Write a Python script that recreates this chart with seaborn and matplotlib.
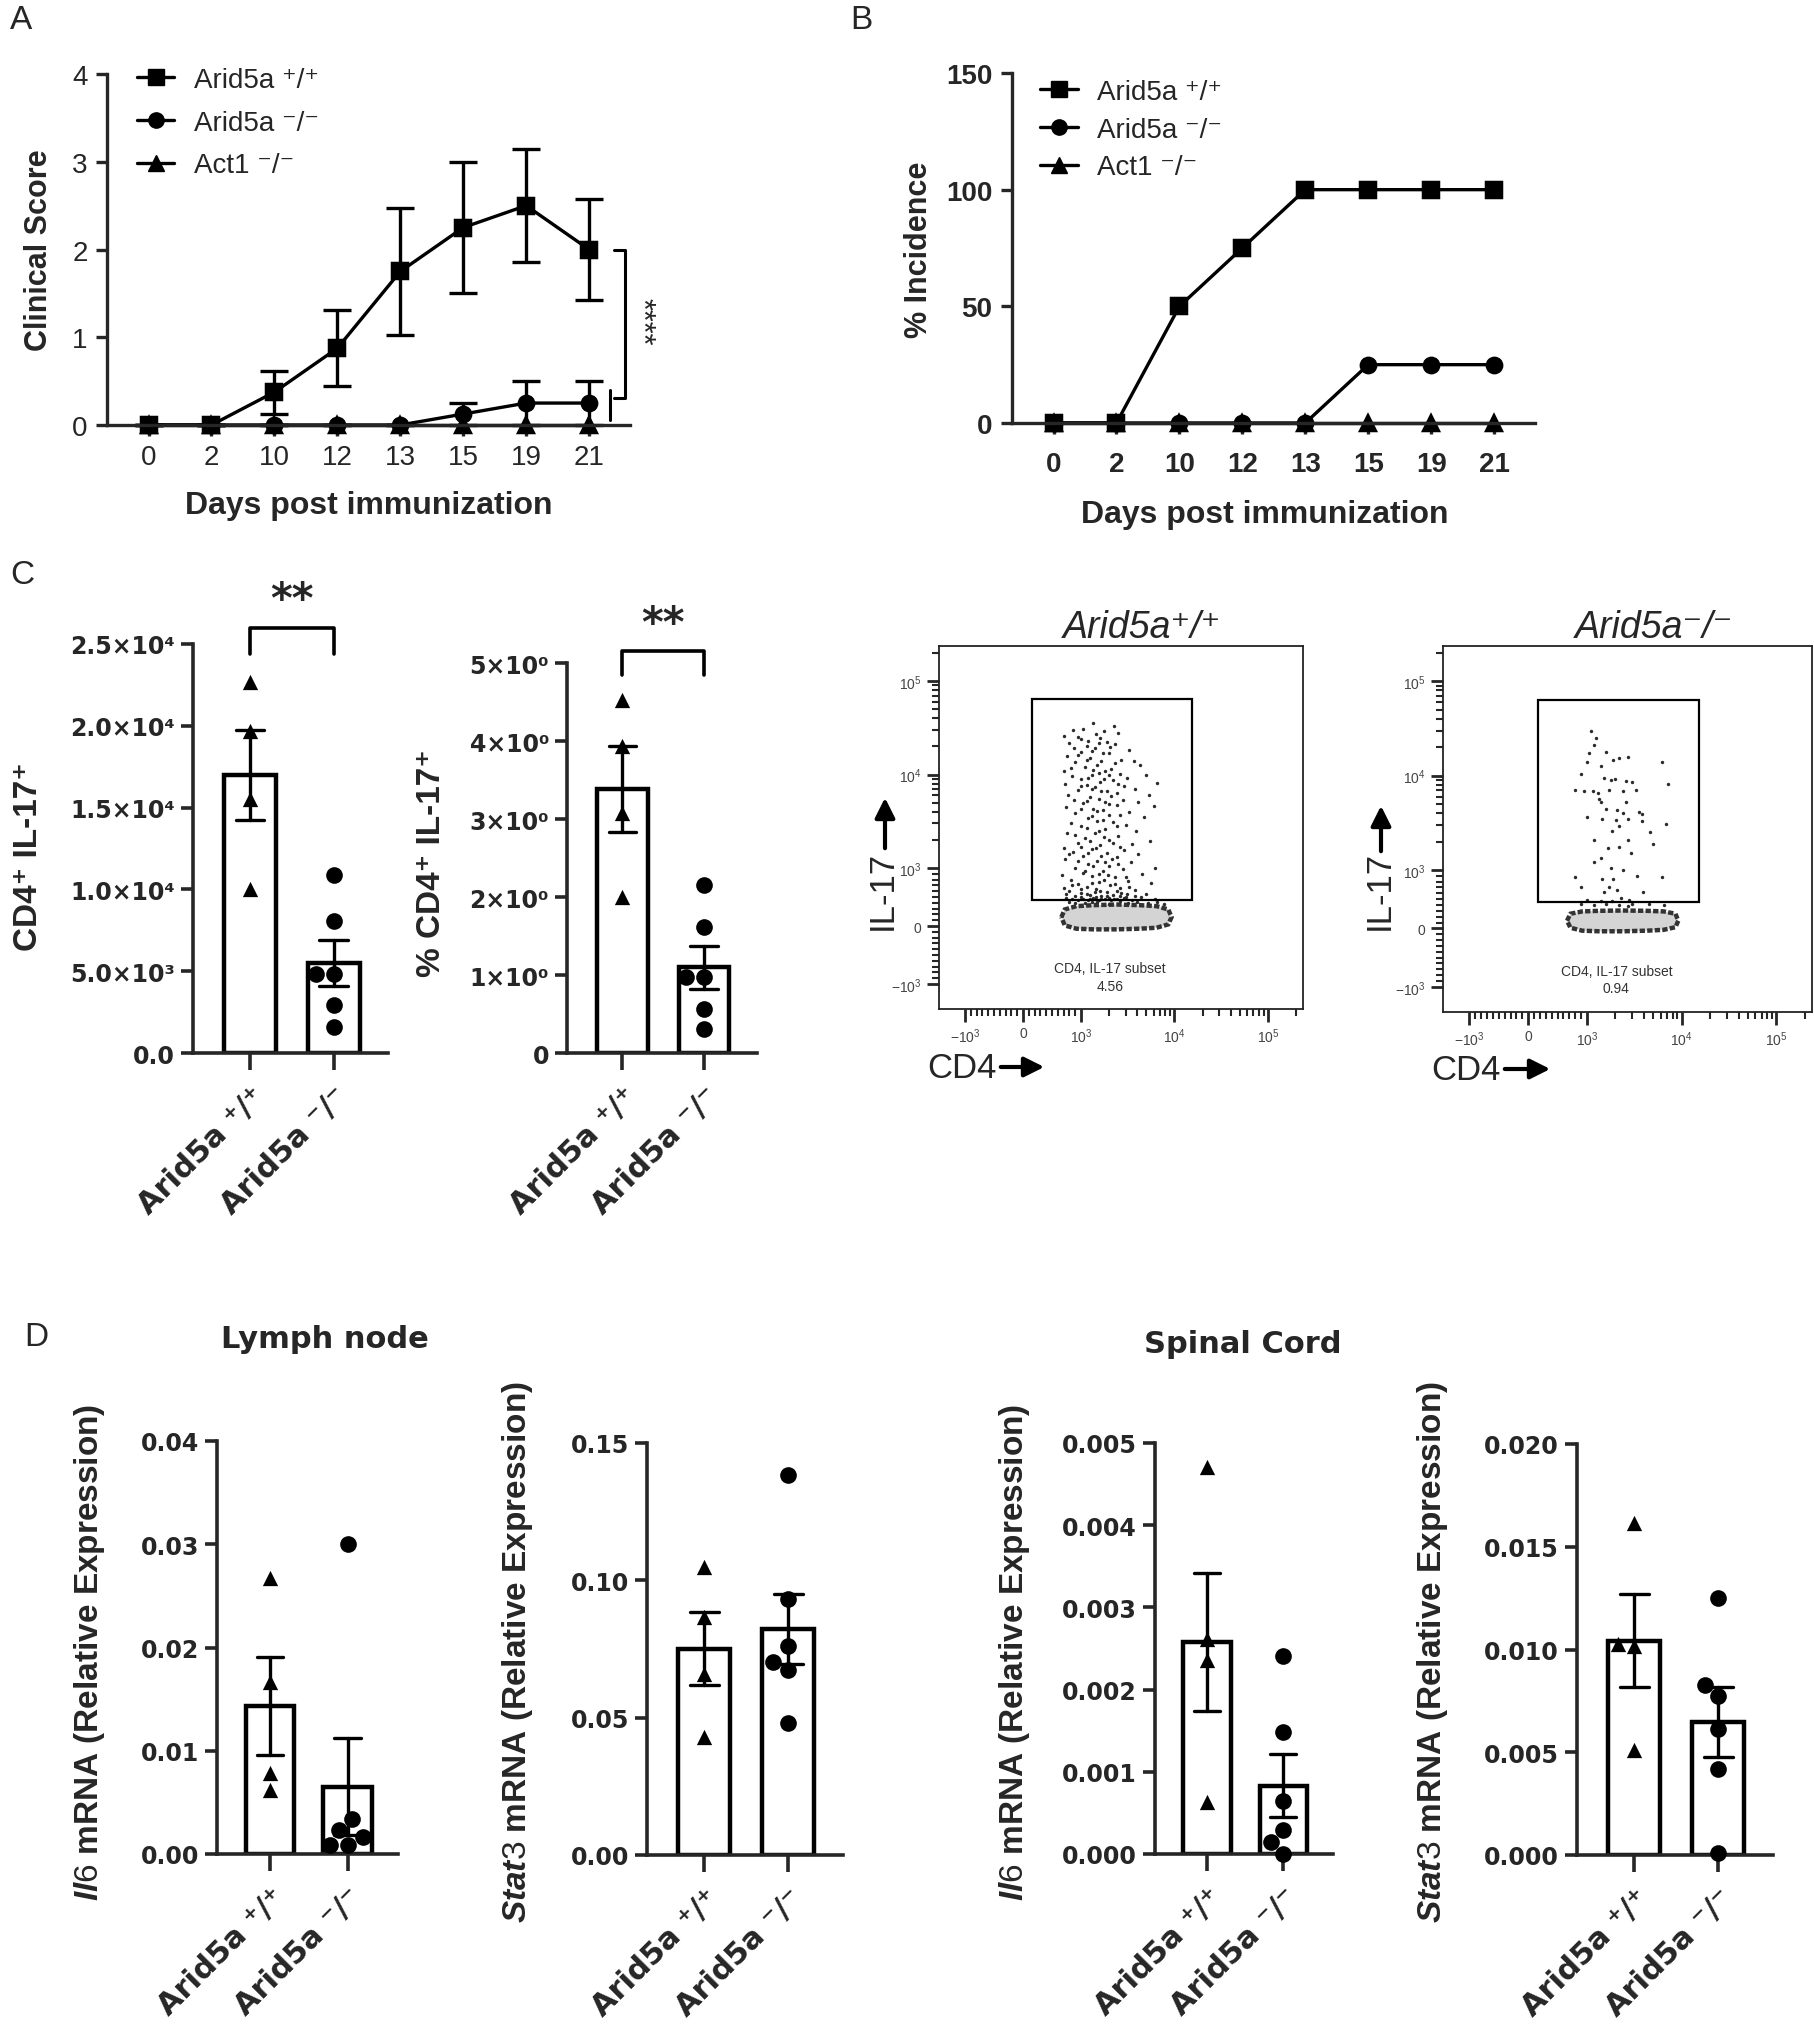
import numpy as np
import pandas as pd
import seaborn as sns
import matplotlib.pyplot as plt
from matplotlib.lines import Line2D
from matplotlib.patches import Rectangle, FancyArrowPatch

sns.set_style('ticks')
plt.rcParams['font.family'] = ['Liberation Sans', 'DejaVu Sans']
plt.rcParams['mathtext.fontset'] = 'custom'
plt.rcParams['mathtext.rm'] = 'Liberation Sans'
plt.rcParams['mathtext.it'] = 'Liberation Sans:italic:bold'
plt.rcParams['mathtext.bf'] = 'Liberation Sans:bold'

# ---- panel A / B : EAE time course ----
days = ['0', '2', '10', '12', '13', '15', '19', '21']
genotypes = ['Arid5a ⁺/⁺', 'Arid5a ⁻/⁻', 'Act1 ⁻/⁻']
score_wt = [0, 0, 0.375, 0.875, 1.75, 2.25, 2.5, 2.0]
score_wt_sem = [0, 0, 0.245, 0.43, 0.72, 0.75, 0.64, 0.58]
score_ko = [0, 0, 0, 0, 0, 0.125, 0.25, 0.25]
score_ko_sem = [0, 0, 0, 0, 0, 0.125, 0.25, 0.25]
score_act1 = [0, 0, 0, 0, 0, 0, 0, 0]
inc_wt = [0, 0, 50, 75, 100, 100, 100, 100]
inc_ko = [0, 0, 0, 0, 0, 25, 25, 25]
inc_act1 = [0, 0, 0, 0, 0, 0, 0, 0]
score_ticks = [0, 1, 2, 3, 4]
score_ticklabels = ['0', '1', '2', '3', '4']
inc_ticks = [0, 50, 100, 150]
inc_ticklabels = ['0', '50', '100', '150']

# ---- panel C / D : per-mouse values ----
groups = ['Arid5a ⁺/⁺', 'Arid5a ⁻/⁻']
th17_count_wt = [22700, 19700, 15500, 10000]
th17_count_ko = [10850, 8070, 4810, 4810, 2910, 1590]
th17_pct_wt = [4.53, 3.94, 3.08, 2.0]
th17_pct_ko = [2.16, 1.62, 0.97, 0.97, 0.56, 0.31]
il6_ln_wt = [0.0267, 0.0167, 0.0062, 0.0078]
il6_ln_ko = [0.0300, 0.0034, 0.0023, 0.0009, 0.0009, 0.0016]
stat3_ln_wt = [0.1048, 0.0867, 0.0660, 0.0430]
stat3_ln_ko = [0.1383, 0.0933, 0.0762, 0.0702, 0.0675, 0.0479]
il6_sc_wt = [0.00471, 0.00261, 0.00236, 0.00063]
il6_sc_ko = [0.00241, 0.00149, 0.00064, 0.00029, 0.00014, 0.0]
stat3_sc_wt = [0.01616, 0.01026, 0.01015, 0.00513]
stat3_sc_ko = [0.01251, 0.00825, 0.00775, 0.00615, 0.0042, 0.0001]

count_ticks = [0, 5000, 10000, 15000, 20000, 25000]
count_ticklabels = ['0.0', '5.0×10³', '1.0×10⁴', '1.5×10⁴', '2.0×10⁴', '2.5×10⁴']
pct_ticks = [0, 1, 2, 3, 4, 5]
pct_ticklabels = ['0', '1×10⁰', '2×10⁰', '3×10⁰', '4×10⁰', '5×10⁰']
il6_ln_ticks = [0, 0.01, 0.02, 0.03, 0.04]
il6_ln_ticklabels = ['0.00', '0.01', '0.02', '0.03', '0.04']
stat3_ln_ticks = [0, 0.05, 0.10, 0.15]
stat3_ln_ticklabels = ['0.00', '0.05', '0.10', '0.15']
il6_sc_ticks = [0, 0.001, 0.002, 0.003, 0.004, 0.005]
il6_sc_ticklabels = ['0.000', '0.001', '0.002', '0.003', '0.004', '0.005']
stat3_sc_ticks = [0, 0.005, 0.010, 0.015, 0.020]
stat3_sc_ticklabels = ['0.000', '0.005', '0.010', '0.015', '0.020']

# ---- flow cytometry (CD4 vs IL-17) ----
flow_major = [-1000, 0, 1000, 10000, 100000]
flow_major_labels = ['$-10^{3}$', '0', '$10^{3}$', '$10^{4}$', '$10^{5}$']
flow_minor = [-900, -800, -700, -600, -500, -400, -300, -200, -100,
              100, 200, 300, 400, 500, 600, 700, 800, 900,
              2000, 3000, 4000, 5000, 6000, 7000, 8000, 9000,
              20000, 30000, 40000, 50000, 60000, 70000, 80000, 90000, 200000]
gate_cd4 = [160, 15300]
gate_il17 = [450, 63700]
wt_subset = '4.56'
ko_subset = '0.94'
wt_cells = [
    (1350, 36000), (2250, 33000), (870, 30000), (1050, 30500), (2500, 27500), (700, 26000),
    (950, 25500), (1600, 24800), (1900, 22500), (2300, 21000), (800, 21500), (1150, 20000),
    (1400, 19200), (3300, 18500), (1000, 17500), (1700, 16800), (2000, 17200), (760, 15800),
    (1250, 15000), (2700, 14200), (3700, 13800), (900, 13500), (1500, 12800), (4300, 12500),
    (1100, 12000), (2100, 11500), (700, 11000), (1800, 10800), (2600, 10200), (1300, 10000),
    (850, 9600), (3100, 9300), (5000, 9800), (1000, 9000), (2200, 8700), (1600, 8400),
    (6500, 8200), (730, 8000), (1150, 7800), (2900, 7600), (1400, 7300), (3800, 7000),
    (950, 6800), (1900, 6600), (2400, 6300), (5300, 6100), (780, 6000), (1250, 5800),
    (1550, 5500), (2800, 5300), (4100, 5100), (1050, 5000), (2000, 4800), (6000, 4600),
    (740, 4500), (1350, 4300), (1700, 4200), (3300, 4000), (900, 3900), (2600, 3700),
    (4700, 3500), (1200, 3400), (1500, 3200), (2200, 3100), (820, 3000), (3000, 2900),
    (1000, 2800), (1800, 2600), (3900, 2500), (760, 2400), (1400, 2350), (2500, 2200),
    (1100, 2100), (2000, 2000), (5500, 1950), (950, 1850), (3500, 1800), (1600, 1750),
    (700, 1650), (1300, 1600), (2900, 1550), (870, 1500), (1900, 1450), (4100, 1400),
    (1050, 1350), (2400, 1300), (720, 1250), (1500, 1200), (3400, 1150), (1200, 1100),
    (2000, 1050), (900, 1000), (6200, 1000), (2800, 980), (1700, 950), (1050, 920),
    (4500, 900), (680, 880), (1300, 860), (2300, 840), (820, 800), (3200, 780),
    (1550, 760), (5600, 740), (950, 720), (2050, 700), (1150, 680), (2600, 660),
    (700, 650), (1450, 640), (3800, 620), (800, 600), (1900, 590), (1000, 570),
    (5000, 560), (3100, 550), (1250, 540), (2200, 530), (900, 520), (1650, 510),
    (4400, 500), (750, 490), (1350, 485), (2900, 480), (1050, 475), (1800, 470),
    (6200, 470), (850, 465), (2400, 460), (1550, 455), (3500, 455), (1200, 450),
    (2100, 450), (950, 448), (800, 420), (1500, 410), (2600, 430), (4000, 420),
    (1100, 400), (3200, 395), (6500, 410), (900, 390), (2000, 385), (1300, 420),
    (5200, 400), (7800, 380),
    (1000, 24000), (1200, 23000), (1450, 27000), (1750, 29500), (880, 19000), (1300, 17800),
    (1550, 21500), (2050, 19500), (950, 16000), (1150, 14200), (1650, 13800), (2300, 13200),
    (820, 11800), (1350, 11200), (1550, 10500), (2000, 9800), (1200, 9300), (1750, 8900),
    (2500, 7900), (1000, 7600), (1300, 7000), (1650, 6700), (2100, 5900), (880, 5300),
    (1150, 5200), (1800, 5100), (2400, 4700), (1000, 4300), (1500, 4050), (2000, 3700),
    (1300, 3600), (1700, 3300), (2400, 2800), (1150, 2700), (1550, 2500), (900, 2250),
    (1250, 1950), (1750, 2150), (2200, 1850), (1000, 1700), (1450, 1650), (2600, 1700),
    (800, 1400), (1200, 1450), (1650, 1350), (2150, 1250), (950, 1200), (1350, 1050),
    (1800, 1150), (2500, 1100), (1100, 950), (1550, 900), (1950, 880), (3000, 850),
    (850, 700), (1300, 740), (1750, 800), (2300, 720), (1000, 640), (1600, 600),
    (2400, 610), (3300, 680), (1150, 560), (1400, 580), (2700, 570), (750, 550),
    (1900, 520), (1450, 500), (2600, 510), (1000, 500), (3800, 520), (1250, 470),
    (2000, 490), (3000, 500), (1650, 465), (2250, 470), (1400, 460),
]
ko_cells = [
    (1100, 30000), (1250, 25000), (1200, 21000), (1050, 17500), (1600, 18000), (2200, 15500),
    (2700, 15800), (1000, 14000), (1900, 14500), (6200, 14000), (1400, 12500), (900, 10500),
    (1500, 9500), (1800, 9000), (2000, 9300), (2600, 8800), (3000, 8500), (7200, 8200),
    (800, 7000), (950, 6900), (1150, 6900), (1300, 6600), (1700, 7000), (2400, 6800),
    (3300, 7100), (1350, 5700), (1400, 5200), (2600, 5300), (1600, 4400), (2100, 4300),
    (2400, 4000), (3500, 4100), (3800, 3900), (1000, 3600), (1450, 3500), (2050, 3400),
    (2700, 3500), (3800, 3300), (6800, 3100), (2200, 2900), (4600, 2500), (1850, 2600),
    (2700, 2100), (1200, 2100), (5000, 1900), (1650, 1700), (2200, 1750), (1400, 1350),
    (2900, 1500), (1200, 1200), (1800, 1050), (2400, 1000), (3400, 900), (6200, 880),
    (800, 880), (1450, 850), (1900, 850), (900, 700), (1700, 700), (2100, 660),
    (3900, 620), (1500, 620), (2300, 520), (2800, 480), (1000, 480), (1400, 470),
    (1850, 460), (900, 420), (1600, 410), (2200, 400), (3000, 420), (4500, 410),
    (1200, 395), (6500, 400), (2700, 390),
]
wt_blob_cd4 = [661, 720, 921, 1349, 2399, 4266, 6442, 8590, 9310, 8590, 6442, 4266, 2399, 1349, 921, 720]
wt_blob_il17 = [154, 286, 343, 360, 371, 360, 343, 286, 154, 29, -29, -46, -57, -57, -46, 11]
ko_blob_cd4 = [661, 720, 921, 1349, 2399, 4266, 6442, 8590, 9200, 8590, 6442, 4266, 2399, 1349, 921, 720]
ko_blob_il17 = [130, 250, 290, 300, 305, 300, 290, 250, 130, 20, -25, -40, -50, -50, -40, 10]

W, H = 1815, 2040
fig = plt.figure(figsize=(W / 100, H / 100), dpi=100)


def rect(l, r, t, b):
    return [l / W, 1 - b / H, (r - l) / W, (b - t) / H]


def put(x, y, s, **kw):
    fig.text(x / W, 1 - y / H, s, **kw)


def arrow(x0, y0, x1, y1):
    fig.add_artist(FancyArrowPatch((x0 / W, 1 - y0 / H), (x1 / W, 1 - y1 / H),
                                   transform=fig.transFigure, arrowstyle='-|>',
                                   mutation_scale=30, lw=3, color='black'))


def time_panel(box, wt, ko, act1, ticks, ticklabels, bold, ylabel, ylab_xy, xlab_xy,
               leg_xy, spacing, xpad, sems=None):
    l, r, t, b = box
    ax = fig.add_axes(rect(*box))
    df = pd.DataFrame({'day': days * 3,
                       'genotype': [g for g in genotypes for _ in days],
                       'value': wt + ko + act1})
    sns.pointplot(data=df, x='day', y='value', hue='genotype', order=days,
                  hue_order=genotypes[::-1], palette={g: 'black' for g in genotypes},
                  markers=['^', 'o', 's'], linestyles='-', errorbar=None,
                  markersize=11, linewidth=2.4, legend=False, ax=ax)
    if sems is not None:
        for vals, err in zip([wt, ko], sems):
            ax.errorbar(np.arange(len(days)), vals, yerr=err, fmt='none', ecolor='black',
                        elinewidth=2.4, capsize=10, capthick=2.4)
    for art in ax.lines + ax.collections:
        art.set_clip_on(False)
    ax.set_xlim(-0.66, 7.65)
    ax.set_ylim(ticks[0], ticks[-1])
    weight = 'bold' if bold else 'normal'
    ax.set_yticks(ticks, ticklabels, fontweight=weight, fontsize=20)
    ax.set_xticks(np.arange(len(days)), days, fontweight=weight, fontsize=20)
    sns.despine(ax=ax)
    for s in ['left', 'bottom']:
        ax.spines[s].set_linewidth(2.4)
    ax.tick_params(width=2.4, length=8, pad=6)
    ax.tick_params(axis='x', pad=xpad)
    ax.set_xlabel('Days post immunization', fontsize=23, fontweight='bold', va='center')
    ax.xaxis.set_label_coords((xlab_xy[0] - l) / (r - l), (b - xlab_xy[1]) / (b - t))
    ax.set_ylabel(ylabel, fontsize=22, fontweight='bold', va='center')
    ax.yaxis.set_label_coords((ylab_xy[0] - l) / (r - l), (b - ylab_xy[1]) / (b - t))
    handles = [Line2D([0], [0], color='black', lw=2.4, marker=m, markersize=11)
               for m in ['s', 'o', '^']]
    ax.legend(handles, genotypes, loc='upper left',
              bbox_to_anchor=(leg_xy[0] / W, 1 - leg_xy[1] / H), bbox_transform=fig.transFigure,
              frameon=False, fontsize=20, handlelength=1.35, handletextpad=0.7,
              labelspacing=spacing, borderpad=0, borderaxespad=0)
    return ax


def bar_panel(box, wt, ko, ticks, ticklabels, ylabel, ylab_xy, sig=None):
    l, r, t, b = box
    ax = fig.add_axes(rect(*box))
    df = pd.DataFrame({'group': [groups[0]] * len(wt) + [groups[1]] * len(ko),
                       'value': wt + ko})
    sns.barplot(data=df, x='group', y='value', order=groups, errorbar='se', color='white',
                edgecolor='black', linewidth=3.2, width=0.62, capsize=0.34,
                err_kws={'color': 'black', 'linewidth': 2.4}, ax=ax)
    for grp, mk, sz in zip(groups, ['^', 'o'], [11, 12]):
        sns.swarmplot(data=df[df['group'] == grp], x='group', y='value', order=groups,
                      marker=mk, size=sz, color='black', linewidth=0, ax=ax)
    for art in ax.collections:
        art.set_clip_on(False)
    ax.set_xlim(-0.68, 1.65)
    ax.set_ylim(ticks[0], ticks[-1])
    ax.set_yticks(ticks, ticklabels, fontfamily='DejaVu Sans', fontweight='bold', fontsize=17)
    ax.set_xticks([0, 1], groups, rotation=45, ha='right', rotation_mode='anchor',
                  fontfamily='DejaVu Sans', fontweight='bold', fontsize=22)
    ax.set_xlabel('')
    sns.despine(ax=ax)
    for s in ['left', 'bottom']:
        ax.spines[s].set_linewidth(2.6)
    ax.tick_params(axis='y', length=9, width=2.6, pad=4)
    ax.tick_params(axis='x', length=12, width=2.6, pad=8)
    ax.set_ylabel(ylabel, fontsize=24, fontweight='bold', va='center')
    ax.yaxis.set_label_coords((ylab_xy[0] - l) / (r - l), (b - ylab_xy[1]) / (b - t))
    if sig is not None:
        lo, hi, star_y = sig
        ax.plot([0, 0, 1, 1], [lo, hi, hi, lo], color='black', lw=2.6, clip_on=False)
        ax.text(0.5, star_y, '**', ha='center', va='center', fontsize=30,
                fontweight='bold', fontfamily='DejaVu Sans')
    return ax


def flow_panel(box, cells, blob_x, blob_y, subset_val):
    ax = fig.add_axes(rect(*box))
    cx = [c[0] for c in cells]
    cy = [c[1] for c in cells]
    ax.fill(blob_x, blob_y, facecolor='#d4d4d4', edgecolor='#333333', lw=3.2,
            linestyle=(0, (1.2, 0.5)))
    sns.scatterplot(x=cx, y=cy, s=6, color='#2b2b2b', linewidth=0, ax=ax)
    ax.add_patch(Rectangle((gate_cd4[0], gate_il17[0]), gate_cd4[1] - gate_cd4[0],
                           gate_il17[1] - gate_il17[0], fill=False, lw=1.6, ec='black'))
    ax.set_xscale('symlog', linthresh=1000, linscale=0.558)
    ax.set_yscale('symlog', linthresh=1000, linscale=0.558)
    ax.set_xlim(-1900, 2.37e5)
    ax.set_ylim(-1850, 2.37e5)
    for axis in [ax.xaxis, ax.yaxis]:
        axis.set_ticks(flow_major, flow_major_labels)
        axis.set_ticks(flow_minor, minor=True)
    ax.tick_params(which='major', direction='out', length=9, width=2, labelsize=10,
                   labelcolor='#444', top=False, right=False)
    ax.tick_params(which='minor', direction='out', length=5, width=1.5,
                   top=False, right=False)
    for s in ax.spines.values():
        s.set_linewidth(1.3)
        s.set_color('#222')
    ax.text(0.47, 0.088, 'CD4, IL-17 subset\n' + subset_val, transform=ax.transAxes,
            ha='center', va='center', fontsize=10, color='#333', linespacing=1.3)
    return ax


# ---- A ----
ax_a = time_panel((107, 630, 75, 426), score_wt, score_ko, score_act1, score_ticks,
                  score_ticklabels, False, 'Clinical Score', (39, 250), (369, 506),
                  (137, 68), 0.6, 6, sems=[score_wt_sem, score_ko_sem])
ax_a.plot([7.4, 7.57, 7.57, 7.4], [2.0, 2.0, 0.31, 0.31], color='black', lw=2.2, clip_on=False)
ax_a.plot([7.33, 7.33], [0.06, 0.4], color='black', lw=2.2, clip_on=False)
ax_a.text(7.82, 1.19, '****', rotation=270, ha='center', va='center', fontsize=22)

# ---- B ----
time_panel((1012, 1535, 74, 424), inc_wt, inc_ko, inc_act1, inc_ticks, inc_ticklabels,
           True, '% Incidence', (919, 250), (1265, 515), (1040, 80), 0.42, 12)

# ---- C ----
bar_panel((193, 388, 645, 1054), th17_count_wt, th17_count_ko, count_ticks, count_ticklabels,
          'CD4⁺ IL-17⁺', (29, 857), sig=(24400, 26000, 27700))
bar_panel((567, 757, 664, 1054), th17_pct_wt, th17_pct_ko, pct_ticks, pct_ticklabels,
          '% CD4⁺ IL-17⁺', (432, 863), sig=(4.85, 5.15, 5.5))

flow_panel((939, 1303, 647, 1010), wt_cells, wt_blob_cd4, wt_blob_il17, wt_subset)
flow_panel((1443, 1812, 647, 1013), ko_cells, ko_blob_cd4, ko_blob_il17, ko_subset)
put(1142, 628, 'Arid5a⁺/⁺', fontsize=27, fontstyle='italic', ha='center', va='center')
put(1654, 628, 'Arid5a⁻/⁻', fontsize=27, fontstyle='italic', ha='center', va='center')
put(882, 890, 'IL-17', fontsize=25, rotation=90, ha='center', va='center')
put(1379, 890, 'IL-17', fontsize=25, rotation=90, ha='center', va='center')
arrow(885, 852, 885, 796)
arrow(1381, 855, 1381, 804)
put(962, 1068, 'CD4', fontsize=25, ha='center', va='center')
put(1466, 1070, 'CD4', fontsize=25, ha='center', va='center')
arrow(998, 1068, 1047, 1068)
arrow(1502, 1070, 1553, 1070)

# ---- D ----
bar_panel((217, 398, 1442, 1855), il6_ln_wt, il6_ln_ko, il6_ln_ticks, il6_ln_ticklabels,
          r'$\it{Il6}$ mRNA (Relative Expression)', (90, 1652))
bar_panel((647, 843, 1444, 1856), stat3_ln_wt, stat3_ln_ko, stat3_ln_ticks, stat3_ln_ticklabels,
          r'$\it{Stat3}$ mRNA (Relative Expression)', (518, 1652))
bar_panel((1155, 1333, 1444, 1855), il6_sc_wt, il6_sc_ko, il6_sc_ticks, il6_sc_ticklabels,
          r'$\it{Il6}$ mRNA (Relative Expression)', (1015, 1652))
bar_panel((1577, 1773, 1445, 1856), stat3_sc_wt, stat3_sc_ko, stat3_sc_ticks, stat3_sc_ticklabels,
          r'$\it{Stat3}$ mRNA (Relative Expression)', (1433, 1652))
put(325, 1340, 'Lymph node', fontsize=22, fontweight='bold', fontfamily='DejaVu Sans',
    ha='center', va='center')
put(1243, 1345, 'Spinal Cord', fontsize=22, fontweight='bold', fontfamily='DejaVu Sans',
    ha='center', va='center')

# panel letters
put(10, 5, 'A', fontsize=24, va='top')
put(850, 5, 'B', fontsize=24, va='top')
put(10, 560, 'C', fontsize=24, va='top')
put(24, 1322, 'D', fontsize=24, va='top')

fig.savefig('out.png', dpi=100)
